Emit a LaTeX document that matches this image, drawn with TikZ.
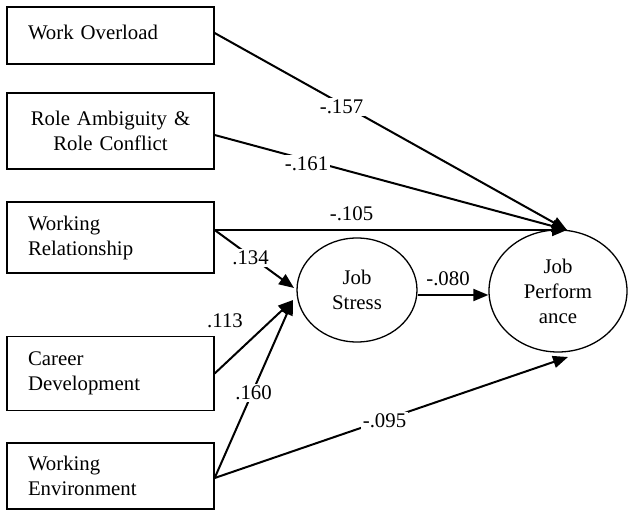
\documentclass[tikz,border=0pt]{standalone}
\usepackage{fontspec}
\setmainfont{Liberation Serif}
\usetikzlibrary{shapes.geometric,arrows.meta}
\begin{document}
\begin{tikzpicture}[x=1pt,y=-1pt,
  every node/.style={font=\fontsize{20.8}{25}\selectfont},
  boxnode/.style={draw,line width=1.3pt,rectangle,minimum width=207pt,inner xsep=21pt,text width=165pt,align=left,inner ysep=0pt},
  ovalnode/.style={draw,line width=1.3pt,ellipse,inner sep=0pt,align=center},
  arr/.style={line width=2pt,-{Triangle[length=15pt,width=12pt]}},
  lbl/.style={fill=white,inner sep=1.5pt}
]
\useasboundingbox (0,0) rectangle (628,510);
% boxes
\node[boxnode,minimum height=57pt,text height=14pt,text depth=6pt] (wo) at (110.5,35.5) {Work Overload};
\node[boxnode,minimum height=76pt,align=center] (rp) at (110.5,131) {Role Ambiguity \&\\Role Conflict};
\node[boxnode,minimum height=71pt] (wr) at (110.5,237.5) {Working\\Relationship};
\node[boxnode,minimum height=74pt] (cd) at (110.5,373.5) {Career\\Development};
\node[boxnode,minimum height=66pt] (we) at (110.5,476) {Working\\Environment};
% ellipses
\node[ovalnode,minimum width=120pt,minimum height=104pt] (js) at (357,290) {Job\\Stress};
\node[ovalnode,minimum width=138pt,minimum height=122pt] (jp) at (558,291) {Job\\Perform\\ance};
% arrow targets
\coordinate (jpin) at (567,230);
\coordinate (jpin2) at (568,357);
\coordinate (jsin) at (293,300);
\coordinate (jsin2) at (294,288);
% connectors
\draw[arr] ([yshift=2.5pt]wo.east) -- (jpin);
\draw[arr] ([yshift=-4pt]rp.east) -- (jpin);
\draw[arr] ([yshift=7.5pt]wr.east) -- (jpin);
\draw[arr] ([yshift=7.5pt]wr.east) -- (jsin2);
\draw[arr] (cd.east) -- (jsin);
\draw[arr] ([yshift=-2pt]we.east) -- (jsin);
\draw[arr] ([yshift=-2pt]we.east) -- (jpin2);
\draw[arr] ([yshift=-5pt]js.east) -- ([yshift=-4pt]jp.west);
% labels
\node[lbl] (l157) at (341.5,107) {-.157};
\node[lbl] (l161) at (306.5,164) {-.161};
\node[lbl] (l105) at (351.5,214) {-.105};
\node[lbl] (l134) at (250.5,258) {.134};
\node[lbl] (l113) at (225,321) {.113};
\node[lbl] (l160) at (253.5,393) {.160};
\node[lbl] (l095) at (384.5,421) {-.095};
\node[lbl] (l080) at (448,278.5) {-.080};
\end{tikzpicture}
\end{document}
